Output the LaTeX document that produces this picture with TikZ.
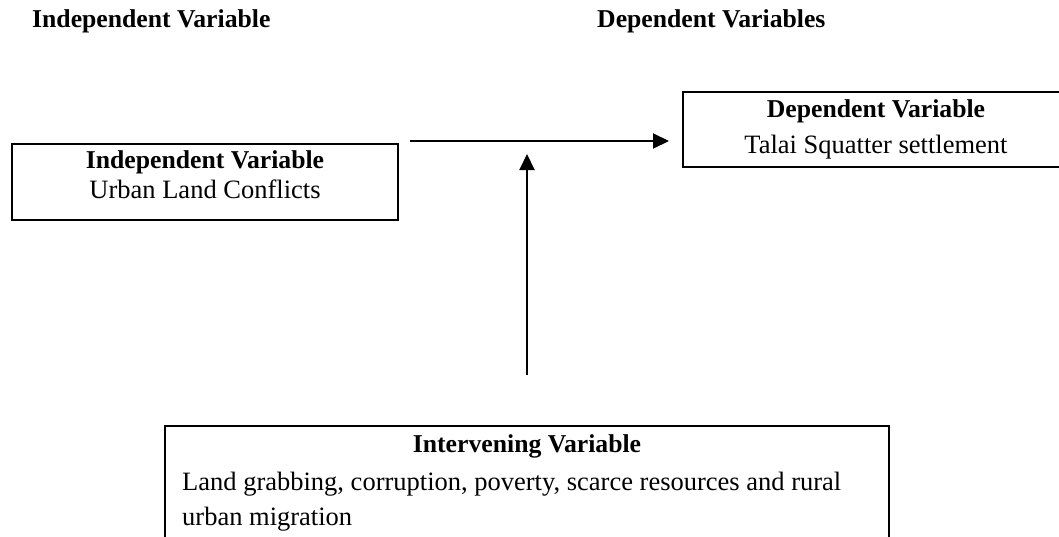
\documentclass[tikz,border=0pt]{standalone}
\usepackage{fontspec}
\setmainfont{Liberation Serif}
\usetikzlibrary{arrows.meta}
\begin{document}
\begin{tikzpicture}[x=1pt,y=-1pt,
  box/.style={draw, line width=2pt, inner sep=0pt, outer sep=0pt},
  lbl/.style={anchor=base, inner sep=0pt, font=\fontsize{26.5}{30}\selectfont},
  blbl/.style={anchor=base, inner sep=0pt, font=\fontsize{25.7}{30}\selectfont\bfseries},
  hdr/.style={anchor=base west, inner sep=0pt, font=\fontsize{25.7}{30}\selectfont\bfseries},
  arr/.style={line width=2pt, -{Triangle[length=16pt,width=15pt]}}]
\useasboundingbox (0,0) rectangle (1059,536);
\clip (0,0) rectangle (1059,536);
% headers
\node[hdr] (h1) at (32,27) {Independent Variable};
\node[hdr] (h2) at (597,27) {Dependent Variables};
% boxes
\node[box, minimum width=386pt, minimum height=76pt] (indep) at (205,182) {};
\node[box, minimum width=386pt, minimum height=75pt] (dep) at (876,129.5) {};
\node[box, minimum width=724pt, minimum height=134pt] (interv) at (527,493) {};
% box texts
\node[blbl] (l1) at (205,168) {Independent Variable};
\node[lbl] (l2) at (205,198) {Urban Land Conflicts};
\node[blbl] (r1) at (876,117) {Dependent Variable};
\node[lbl] (r2) at (876,153) {Talai Squatter settlement};
\node[blbl] (b1) at (527,452) {Intervening Variable};
\node[lbl, anchor=base west] (b2) at (182,490) {Land grabbing, corruption, poverty, scarce resources and rural};
\node[lbl, anchor=base west] (b3) at (182,525) {urban migration};
% arrows
\coordinate (hs) at (410,141);
\coordinate (he) at (669,141);
\coordinate (vs) at (527,375);
\coordinate (ve) at (527,154);
\draw[arr] (hs) -- (he);
\draw[arr] (vs) -- (ve);
\end{tikzpicture}
\end{document}
